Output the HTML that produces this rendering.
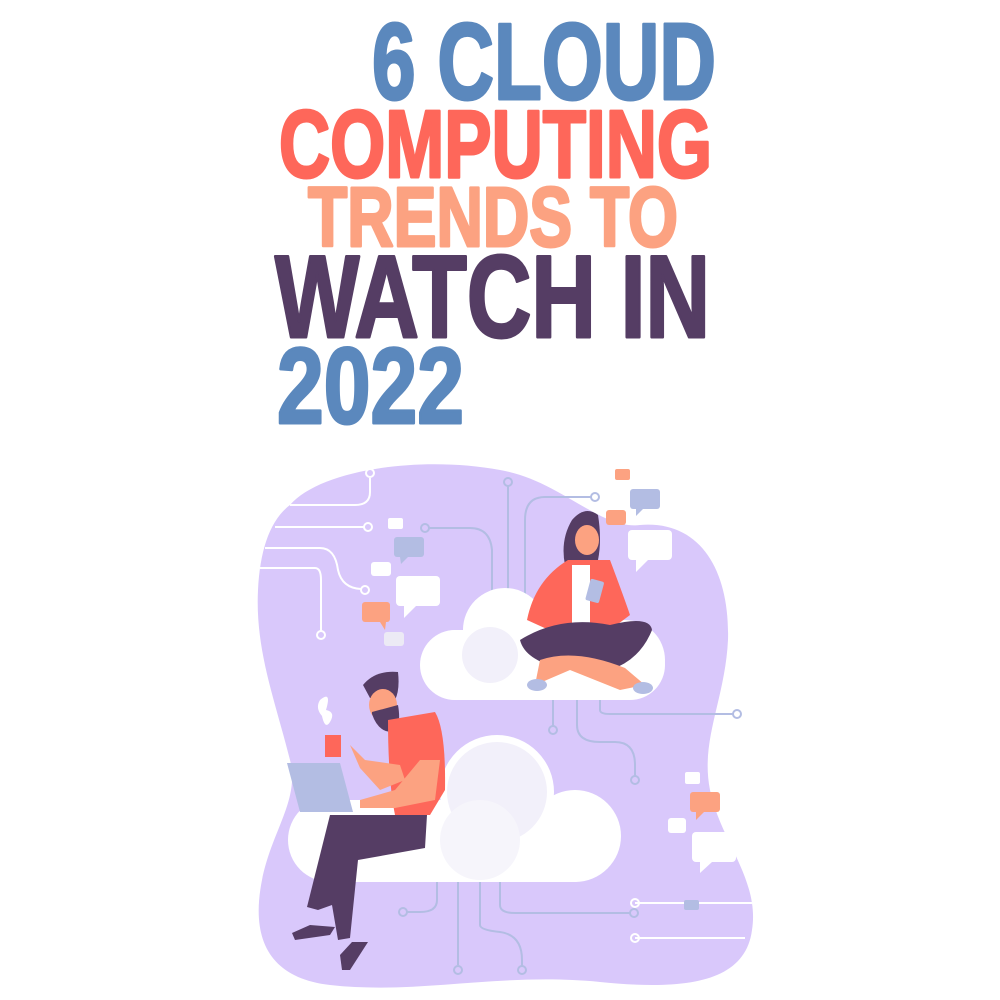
<!DOCTYPE html>
<html><head><meta charset="utf-8"><style>html,body{margin:0;padding:0;background:#fff}svg{display:block}</style></head>
<body>
<svg width="1000" height="1000" viewBox="0 0 1000 1000" xmlns="http://www.w3.org/2000/svg">
<g font-family="Liberation Sans, sans-serif" font-weight="bold" stroke-width="3" stroke-linejoin="round">
<text x="372" y="99" font-size="109" fill="#5b88bd" stroke="#5b88bd" textLength="344" lengthAdjust="spacingAndGlyphs">6 CLOUD</text>
<text x="279" y="177" font-size="96" fill="#fe675a" stroke="#fe675a" textLength="433" lengthAdjust="spacingAndGlyphs">COMPUTING</text>
<text x="308" y="246" font-size="84" fill="#fca281" stroke="#fca281" textLength="370" lengthAdjust="spacingAndGlyphs">TRENDS TO</text>
<text x="275" y="337" font-size="117" fill="#553d64" stroke="#553d64" textLength="435" lengthAdjust="spacingAndGlyphs">WATCH IN</text>
<text x="277" y="423" font-size="108" fill="#5b88bd" stroke="#5b88bd" textLength="187" lengthAdjust="spacingAndGlyphs">2022</text>
</g>
<path d="M290 505 C320 470 420 455 500 470 C560 480 600 530 640 525 C700 520 730 570 728 640 C725 700 700 740 710 790 C720 840 760 880 752 930 C745 985 680 990 600 982 C500 972 420 995 330 985 C270 978 250 940 262 880 C272 830 300 800 290 760 C275 700 255 650 258 590 C260 550 270 520 290 505 Z" fill="#d9c8fb"/>
<g fill="none" stroke="#fff" stroke-width="2">
<path d="M370 478 V492 Q370 505 355 505 H290"/><circle cx="370" cy="473" r="4"/>
<path d="M275 527 H364"/><circle cx="368" cy="527" r="4"/>
<path d="M265 548 H320 Q335 548 338 570 Q342 588 361 589"/><circle cx="365" cy="590" r="4"/>
<path d="M260 568 H315 Q321 568 321 580 V631"/><circle cx="321" cy="635" r="4"/>
<path d="M635 903 H752"/><circle cx="635" cy="903" r="4"/>
<path d="M635 938 H745"/><circle cx="635" cy="938" r="4"/>
</g>
<g fill="none" stroke="#b3bde3" stroke-width="2">
<path d="M508 486 V595"/><circle cx="508" cy="482" r="4"/>
<path d="M429 528 H470 Q490 528 492 550 V595"/><circle cx="425" cy="528" r="4"/>
<path d="M525 595 V520 Q525 497 545 497 H591"/><circle cx="595" cy="497" r="4"/>
<path d="M553 700 V726"/><circle cx="553" cy="730" r="4"/>
<path d="M577 700 V725 Q577 742 600 742 H615 Q635 742 635 765 V776"/><circle cx="635" cy="780" r="4"/>
<path d="M600 700 V710 Q600 714 610 714 H733"/><circle cx="737" cy="714" r="4"/>
<path d="M437 880 V900 Q437 912 420 912 H407"/><circle cx="403" cy="912" r="4"/>
<path d="M458 880 V965"/><circle cx="458" cy="970" r="4"/>
<path d="M480 880 V925 Q480 930 500 932 Q522 935 522 960 V966"/><circle cx="522" cy="970" r="4"/>
<path d="M500 880 V905 Q500 913 515 913 H630"/><circle cx="634" cy="913" r="4"/>
</g>
<g fill="#fff">
<circle cx="330" cy="840" r="42"/>
<circle cx="497" cy="792" r="57"/>
<circle cx="575" cy="836" r="46"/>
<rect x="290" y="800" width="322" height="82" rx="40"/>
</g>
<circle cx="497" cy="792" r="50" fill="#f2f0fa"/>
<circle cx="480" cy="840" r="40" fill="#f6f5fb"/>
<g fill="#fff">
<circle cx="455" cy="665" r="35"/>
<circle cx="505" cy="630" r="42"/>
<circle cx="625" cy="660" r="40"/>
<rect x="422" y="630" width="243" height="70" rx="35"/>
</g>
<circle cx="490" cy="655" r="28" fill="#f2f0fa"/>
<g>
<rect x="388" y="518" width="15" height="11" rx="2" fill="#fff"/>
<rect x="394" y="537" width="30" height="20" rx="3" fill="#b3bde3"/><path d="M400 557 L401 564 L408 557Z" fill="#b3bde3"/>
<rect x="371" y="562" width="20" height="14" rx="3" fill="#fff"/>
<rect x="396" y="576" width="44" height="30" rx="4" fill="#fff"/><path d="M404 606 L404 618 L416 606Z" fill="#fff"/>
<rect x="362" y="602" width="28" height="20" rx="3" fill="#fca281"/><path d="M380 622 L385 630 L386 622Z" fill="#fca281"/>
<rect x="384" y="632" width="20" height="14" rx="3" fill="#eceaf5"/>
<rect x="615" y="469" width="15" height="11" rx="2" fill="#fca281"/>
<rect x="630" y="489" width="30" height="20" rx="3" fill="#b3bde3"/><path d="M636 509 L636 516 L643 509Z" fill="#b3bde3"/>
<rect x="606" y="510" width="20" height="15" rx="3" fill="#fca281"/>
<rect x="628" y="530" width="44" height="30" rx="4" fill="#fff"/><path d="M636 560 L636 572 L648 560Z" fill="#fff"/>
<rect x="685" y="772" width="15" height="12" rx="2" fill="#fff"/>
<rect x="690" y="792" width="30" height="20" rx="3" fill="#fca281"/><path d="M696 812 L696 820 L704 812Z" fill="#fca281"/>
<rect x="668" y="818" width="18" height="15" rx="3" fill="#fff"/>
<rect x="692" y="832" width="44" height="30" rx="4" fill="#fff"/><path d="M700 862 L700 873 L712 862Z" fill="#fff"/>
<rect x="684" y="900" width="15" height="10" rx="2" fill="#b3bde3"/>
</g>
<path d="M572 520 Q585 505 598 515 Q602 540 598 560 L565 565 Q560 540 572 520Z" fill="#553d64"/>
<ellipse cx="587" cy="540" rx="12" ry="15" fill="#fca281"/>
<path d="M568 560 L610 560 Q625 600 630 615 L610 630 L560 635 L527 620 Q535 580 568 560Z" fill="#fe675a"/>
<rect x="572" y="565" width="18" height="62" fill="#fff"/>
<rect x="588" y="580" width="14" height="22" rx="2" fill="#b3bde3" transform="rotate(15 595 590)"/>
<path d="M520 640 Q560 615 610 625 Q650 615 652 630 Q640 660 610 670 L560 668 Q525 660 520 640Z" fill="#553d64"/>
<path d="M540 660 Q575 648 625 668 L645 685 L620 690 L570 670 L535 685 Z" fill="#fca281"/>
<ellipse cx="537" cy="685" rx="10" ry="6" fill="#b3bde3"/>
<ellipse cx="643" cy="688" rx="10" ry="6" fill="#b3bde3"/>
<path d="M320 700 Q332 690 326 710 Q336 712 330 722 Q325 730 322 716 Q315 708 320 700Z" fill="#fff"/>
<path d="M363 685 Q375 670 398 672 Q400 690 395 700 L370 698 Z" fill="#553d64"/>
<ellipse cx="383" cy="705" rx="14" ry="16" fill="#fca281"/>
<path d="M372 712 L398 705 Q402 728 392 732 Q378 732 372 714Z" fill="#553d64"/>
<path d="M388 720 L435 712 Q446 730 445 790 L430 815 L395 815 Q388 780 388 720Z" fill="#fe675a"/>
<path d="M350 745 L365 760 L400 765 L405 780 L380 790 L360 768 Z" fill="#fca281"/>
<path d="M420 760 L440 760 L435 800 L395 808 L360 808 L360 800 L395 790 Z" fill="#fca281"/>
<rect x="325" y="735" width="16" height="22" fill="#fe675a"/>
<path d="M287 763 L340 763 L353 812 L300 812Z" fill="#b3bde3"/>
<path d="M330 815 L427 815 L425 848 L358 860 L350 938 L338 940 L332 905 L318 910 L307 907 Z" fill="#553d64"/>
<path d="M292 933 L310 925 L335 927 L330 935 L295 940Z" fill="#553d64"/>
<path d="M340 955 L352 942 L368 942 L350 970 L342 970Z" fill="#553d64"/>
</svg>
</body></html>
